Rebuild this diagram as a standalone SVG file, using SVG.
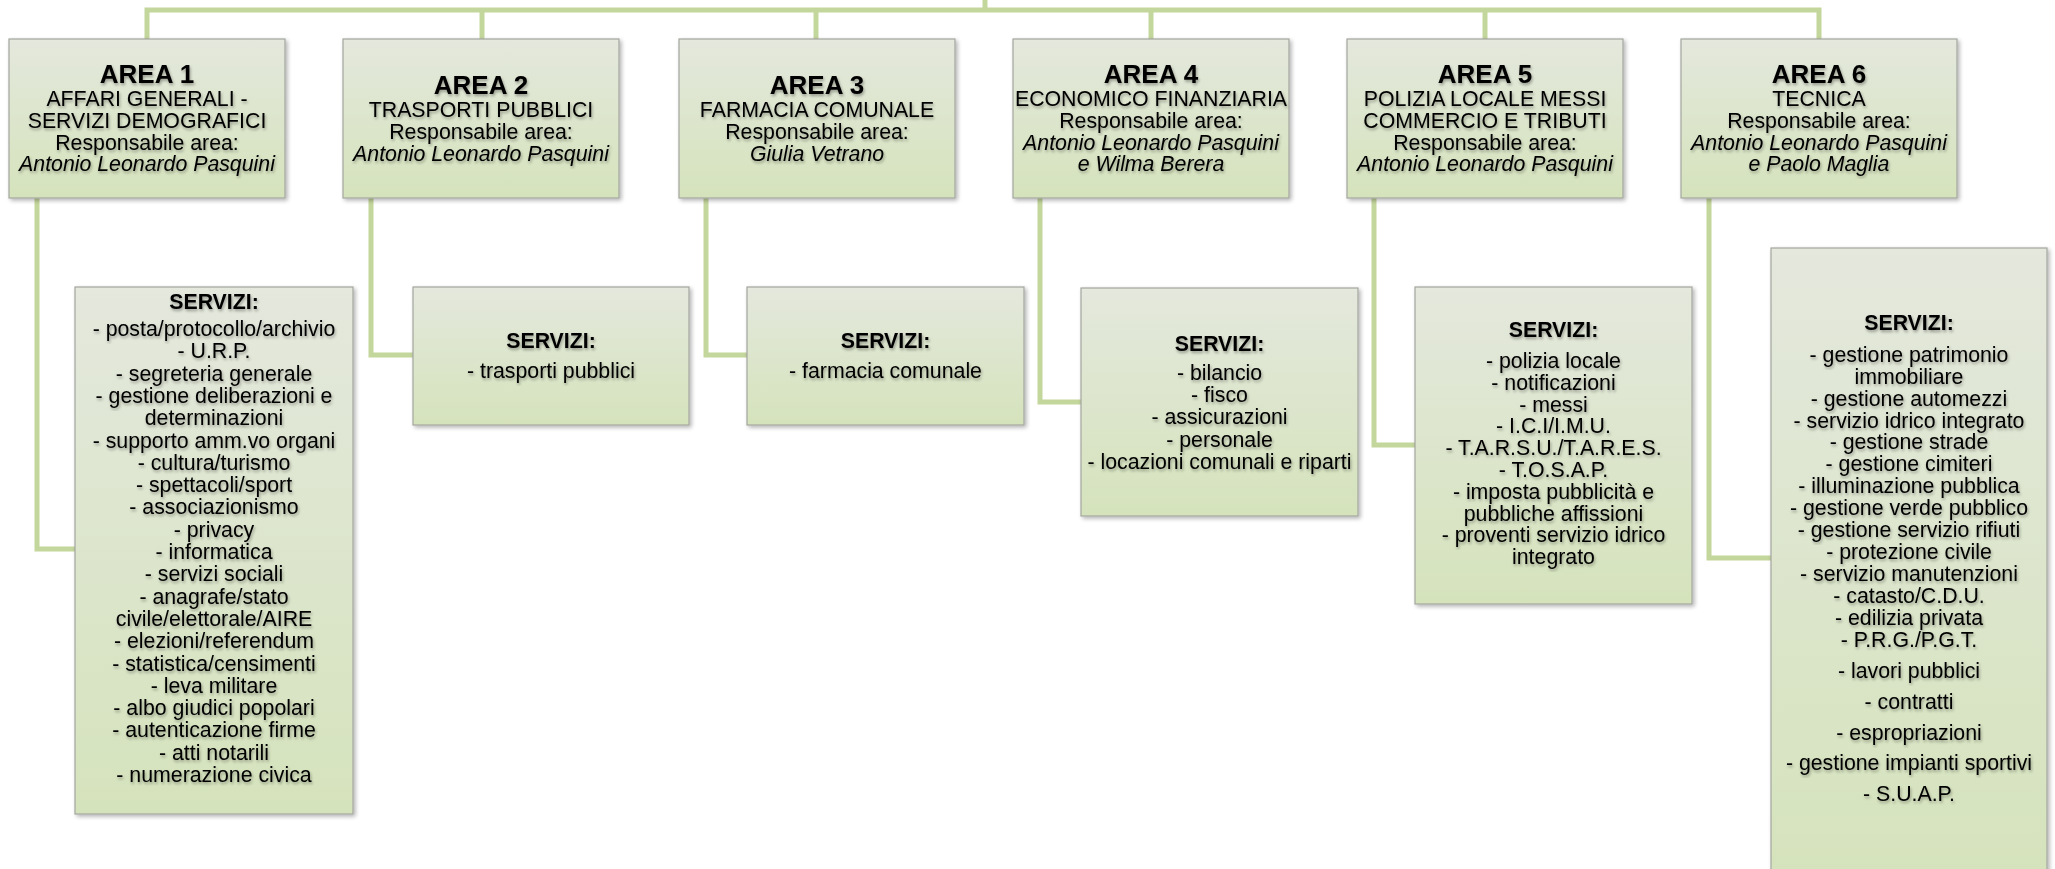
<svg xmlns="http://www.w3.org/2000/svg" width="2055" height="869" viewBox="0 0 2055 869">
<defs>
<linearGradient id="g" x1="0" y1="0" x2="0" y2="1">
<stop offset="0" stop-color="#e4e8dd"/>
<stop offset="1" stop-color="#d5e3bc"/>
</linearGradient>
<filter id="bs" x="-5%" y="-5%" width="112%" height="112%">
<feGaussianBlur in="SourceAlpha" stdDeviation="2"/>
<feOffset dx="2" dy="2"/>
<feComponentTransfer><feFuncA type="linear" slope="0.3"/></feComponentTransfer>
<feMerge><feMergeNode/><feMergeNode in="SourceGraphic"/></feMerge>
</filter>
<filter id="ts" x="-10%" y="-10%" width="120%" height="120%">
<feGaussianBlur in="SourceAlpha" stdDeviation="1.6"/>
<feOffset dx="1" dy="2"/>
<feComponentTransfer><feFuncA type="linear" slope="0.35"/></feComponentTransfer>
<feMerge><feMergeNode/><feMergeNode in="SourceGraphic"/></feMerge>
</filter>
</defs>
<style>
.box{fill:url(#g);stroke:#a3a69e;stroke-width:1.2;filter:url(#bs)}
.ln{fill:none;stroke:#c3d69b;stroke-width:5;stroke-linejoin:miter;stroke-linecap:butt}
.t{font-family:"Liberation Sans",Arial,sans-serif;font-size:21.3px;fill:#000;text-anchor:middle;filter:url(#ts)}
.h{font-weight:bold;font-size:26px}
.b{font-weight:bold}
.i{font-style:italic}
</style>
<rect width="2055" height="869" fill="#ffffff"/>
<g id="connectors">
<polyline class="ln" points="985,0 985,10"/>
<polyline class="ln" points="147,39 147,10 1819,10 1819,39"/>
<polyline class="ln" points="482,10 482,39"/>
<polyline class="ln" points="816,10 816,39"/>
<polyline class="ln" points="1151,10 1151,39"/>
<polyline class="ln" points="1485,10 1485,39"/>
<polyline class="ln" points="37,198 37,549 75,549"/>
<polyline class="ln" points="371,198 371,355 413,355"/>
<polyline class="ln" points="706,198 706,355 747,355"/>
<polyline class="ln" points="1040,198 1040,402 1081,402"/>
<polyline class="ln" points="1374,198 1374,445 1415,445"/>
<polyline class="ln" points="1709,198 1709,558 1771,558"/>
</g>
<g id="area1">
<rect class="box" x="9" y="39" width="276" height="159"/>
<text class="t h" x="147" y="83">AREA 1</text>
<text class="t" x="147" y="106">AFFARI GENERALI -</text>
<text class="t" x="147" y="128">SERVIZI DEMOGRAFICI</text>
<text class="t" x="147" y="150">Responsabile area:</text>
<text class="t i" x="147" y="171">Antonio Leonardo Pasquini</text>
</g>
<g id="area2">
<rect class="box" x="343" y="39" width="276" height="159"/>
<text class="t h" x="481" y="94">AREA 2</text>
<text class="t" x="481" y="117">TRASPORTI PUBBLICI</text>
<text class="t" x="481" y="139">Responsabile area:</text>
<text class="t i" x="481" y="161">Antonio Leonardo Pasquini</text>
</g>
<g id="area3">
<rect class="box" x="679" y="39" width="276" height="159"/>
<text class="t h" x="817" y="94">AREA 3</text>
<text class="t" x="817" y="117">FARMACIA COMUNALE</text>
<text class="t" x="817" y="139">Responsabile area:</text>
<text class="t i" x="817" y="161">Giulia Vetrano</text>
</g>
<g id="area4">
<rect class="box" x="1013" y="39" width="276" height="159"/>
<text class="t h" x="1151" y="83">AREA 4</text>
<text class="t" x="1151" y="106">ECONOMICO FINANZIARIA</text>
<text class="t" x="1151" y="128">Responsabile area:</text>
<text class="t i" x="1151" y="150">Antonio Leonardo Pasquini</text>
<text class="t i" x="1151" y="171">e Wilma Berera</text>
</g>
<g id="area5">
<rect class="box" x="1347" y="39" width="276" height="159"/>
<text class="t h" x="1485" y="83">AREA 5</text>
<text class="t" x="1485" y="106">POLIZIA LOCALE MESSI</text>
<text class="t" x="1485" y="128">COMMERCIO E TRIBUTI</text>
<text class="t" x="1485" y="150">Responsabile area:</text>
<text class="t i" x="1485" y="171">Antonio Leonardo Pasquini</text>
</g>
<g id="area6">
<rect class="box" x="1681" y="39" width="276" height="159"/>
<text class="t h" x="1819" y="83">AREA 6</text>
<text class="t" x="1819" y="106">TECNICA</text>
<text class="t" x="1819" y="128">Responsabile area:</text>
<text class="t i" x="1819" y="150">Antonio Leonardo Pasquini</text>
<text class="t i" x="1819" y="171">e Paolo Maglia</text>
</g>
<g id="servizi1">
<rect class="box" x="75" y="287" width="278" height="527"/>
<text class="t b" x="214" y="309">SERVIZI:</text>
<text class="t" x="214" y="336">- posta/protocollo/archivio</text>
<text class="t" x="214" y="358">- U.R.P.</text>
<text class="t" x="214" y="381">- segreteria generale</text>
<text class="t" x="214" y="403">- gestione deliberazioni e</text>
<text class="t" x="214" y="425">determinazioni</text>
<text class="t" x="214" y="448">- supporto amm.vo organi</text>
<text class="t" x="214" y="470">- cultura/turismo</text>
<text class="t" x="214" y="492">- spettacoli/sport</text>
<text class="t" x="214" y="514">- associazionismo</text>
<text class="t" x="214" y="537">- privacy</text>
<text class="t" x="214" y="559">- informatica</text>
<text class="t" x="214" y="581">- servizi sociali</text>
<text class="t" x="214" y="604">- anagrafe/stato</text>
<text class="t" x="214" y="626">civile/elettorale/AIRE</text>
<text class="t" x="214" y="648">- elezioni/referendum</text>
<text class="t" x="214" y="671">- statistica/censimenti</text>
<text class="t" x="214" y="693">- leva militare</text>
<text class="t" x="214" y="715">- albo giudici popolari</text>
<text class="t" x="214" y="737">- autenticazione firme</text>
<text class="t" x="214" y="760">- atti notarili</text>
<text class="t" x="214" y="782">- numerazione civica</text>
</g>
<g id="servizi2">
<rect class="box" x="413" y="287" width="276" height="138"/>
<text class="t b" x="551" y="348">SERVIZI:</text>
<text class="t" x="551" y="378">- trasporti pubblici</text>
</g>
<g id="servizi3">
<rect class="box" x="747" y="287" width="277" height="138"/>
<text class="t b" x="885.5" y="348">SERVIZI:</text>
<text class="t" x="885.5" y="378">- farmacia comunale</text>
</g>
<g id="servizi4">
<rect class="box" x="1081" y="288" width="277" height="228"/>
<text class="t b" x="1219.5" y="351">SERVIZI:</text>
<text class="t" x="1219.5" y="380">- bilancio</text>
<text class="t" x="1219.5" y="402">- fisco</text>
<text class="t" x="1219.5" y="424">- assicurazioni</text>
<text class="t" x="1219.5" y="447">- personale</text>
<text class="t" x="1219.5" y="469">- locazioni comunali e riparti</text>
</g>
<g id="servizi5">
<rect class="box" x="1415" y="287" width="277" height="317"/>
<text class="t b" x="1553.5" y="337">SERVIZI:</text>
<text class="t" x="1553.5" y="368">- polizia locale</text>
<text class="t" x="1553.5" y="390">- notificazioni</text>
<text class="t" x="1553.5" y="412">- messi</text>
<text class="t" x="1553.5" y="433">- I.C.I/I.M.U.</text>
<text class="t" x="1553.5" y="455">- T.A.R.S.U./T.A.R.E.S.</text>
<text class="t" x="1553.5" y="477">- T.O.S.A.P.</text>
<text class="t" x="1553.5" y="499">- imposta pubblicità e</text>
<text class="t" x="1553.5" y="521">pubbliche affissioni</text>
<text class="t" x="1553.5" y="542">- proventi servizio idrico</text>
<text class="t" x="1553.5" y="564">integrato</text>
</g>
<g id="servizi6">
<rect class="box" x="1771" y="248" width="276" height="630"/>
<text class="t b" x="1909" y="330">SERVIZI:</text>
<text class="t" x="1909" y="362">- gestione patrimonio</text>
<text class="t" x="1909" y="384">immobiliare</text>
<text class="t" x="1909" y="406">- gestione automezzi</text>
<text class="t" x="1909" y="428">- servizio idrico integrato</text>
<text class="t" x="1909" y="449">- gestione strade</text>
<text class="t" x="1909" y="471">- gestione cimiteri</text>
<text class="t" x="1909" y="493">- illuminazione pubblica</text>
<text class="t" x="1909" y="515">- gestione verde pubblico</text>
<text class="t" x="1909" y="537">- gestione servizio rifiuti</text>
<text class="t" x="1909" y="559">- protezione civile</text>
<text class="t" x="1909" y="581">- servizio manutenzioni</text>
<text class="t" x="1909" y="603">- catasto/C.D.U.</text>
<text class="t" x="1909" y="625">- edilizia privata</text>
<text class="t" x="1909" y="647">- P.R.G./P.G.T.</text>
<text class="t" x="1909" y="678">- lavori pubblici</text>
<text class="t" x="1909" y="709">- contratti</text>
<text class="t" x="1909" y="740">- espropriazioni</text>
<text class="t" x="1909" y="770">- gestione impianti sportivi</text>
<text class="t" x="1909" y="801">- S.U.A.P.</text>
</g>
</svg>
